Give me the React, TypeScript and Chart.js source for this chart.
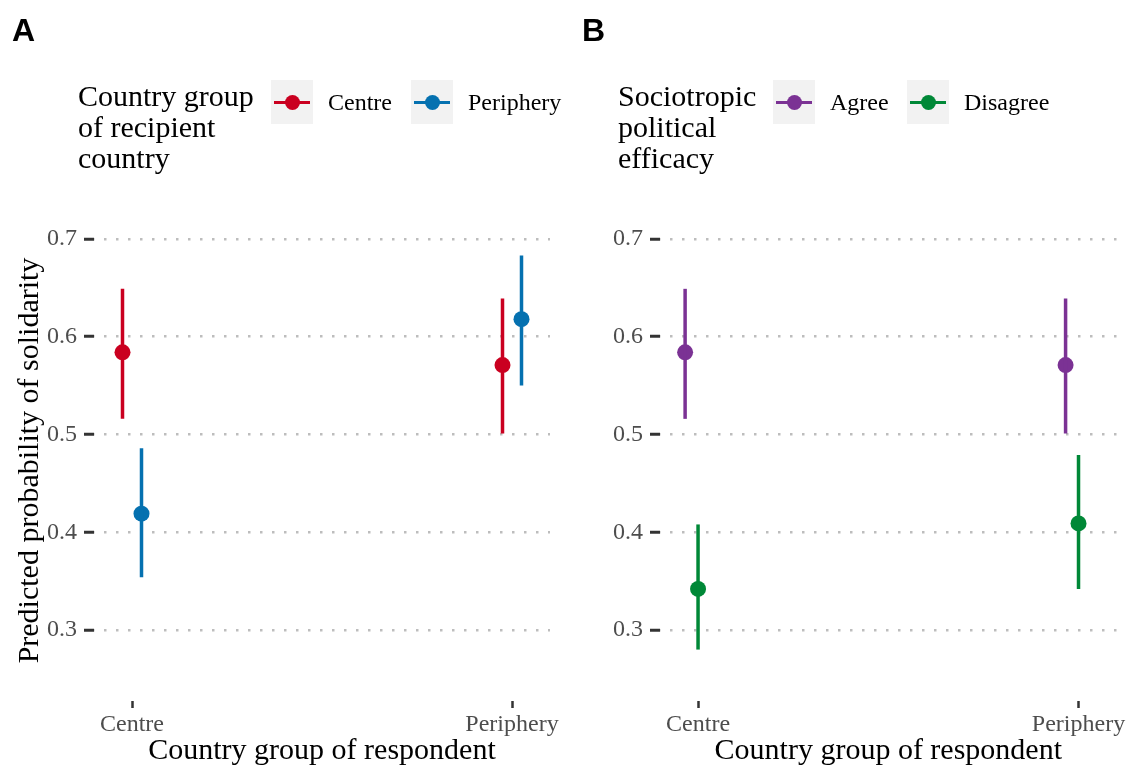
import React, { useEffect, useRef } from "react";
import { Chart, registerables } from "chart.js";

Chart.register(...registerables);

// ---------- data ----------
const respondentGroups = ["Centre", "Periphery"];
const yTickValues = [0.3, 0.4, 0.5, 0.6, 0.7];

// Panel A: country group of recipient country
const recipientGroups = ["Centre", "Periphery"];
const recipientCentreEstimate = [0.584, 0.571];
const recipientCentreLower = [0.516, 0.501];
const recipientCentreUpper = [0.649, 0.639];
const recipientPeripheryEstimate = [0.419, 0.618];
const recipientPeripheryLower = [0.354, 0.55];
const recipientPeripheryUpper = [0.486, 0.683];

// Panel B: sociotropic political efficacy
const efficacyGroups = ["Agree", "Disagree"];
const agreeEstimate = [0.584, 0.571];
const agreeLower = [0.516, 0.501];
const agreeUpper = [0.649, 0.639];
const disagreeEstimate = [0.342, 0.409];
const disagreeLower = [0.28, 0.342];
const disagreeUpper = [0.408, 0.479];

// ---------- styling ----------
const SERIF = "'Liberation Serif', 'Times New Roman', serif";
const SANS = "'Liberation Sans', Arial, sans-serif";
const RED = "#ca0020";
const BLUE = "#0571b0";
const PURPLE = "#7b3294";
const GREEN = "#008837";
const PAD_TOP = 220;
const Y_MIN = 0.2274;
const Y_MAX = 0.7194;
const X_MIN = 0.9;
const X_MAX = 2.1;

type Series = {
  label: string;
  color: string;
  offset: number;
  est: number[];
  lo: number[];
  hi: number[];
};

function buildDatasets(series: Series[]) {
  const ds: any[] = [];
  series.forEach((s) => {
    respondentGroups.forEach((_g, i) => {
      const x = i + 1 + s.offset;
      ds.push({
        label: s.label + " range",
        data: [
          { x, y: s.lo[i] },
          { x, y: s.hi[i] },
        ],
        showLine: true,
        borderColor: s.color,
        borderWidth: 3.5,
        borderCapStyle: "butt",
        pointRadius: 0,
        pointHoverRadius: 0,
        clip: false,
      });
    });
  });
  series.forEach((s) => {
    ds.push({
      label: s.label,
      data: respondentGroups.map((_g, i) => ({ x: i + 1 + s.offset, y: s.est[i] })),
      showLine: false,
      backgroundColor: s.color,
      borderColor: s.color,
      borderWidth: 0,
      pointRadius: 8,
      pointHoverRadius: 8,
      clip: false,
    });
  });
  return ds;
}

function makeOptions(yWidth: number, rightPad: number, yTitle: string | null) {
  return {
    animation: false,
    responsive: false,
    maintainAspectRatio: false,
    layout: { padding: { top: PAD_TOP, right: rightPad, left: 0, bottom: 0 } },
    plugins: { legend: { display: false }, tooltip: { enabled: false } },
    events: [],
    scales: {
      x: {
        type: "linear",
        min: X_MIN,
        max: X_MAX,
        afterBuildTicks: (s: any) => {
          s.ticks = respondentGroups.map((_g, i) => ({ value: i + 1 }));
        },
        afterFit: (s: any) => {
          s.height = 68;
        },
        ticks: {
          autoSkip: false,
          maxRotation: 0,
          padding: 2,
          color: "#4d4d4d",
          font: { family: SERIF, size: 24 },
          callback: (v: any) => respondentGroups[Math.round(Number(v)) - 1] ?? "",
        },
        grid: {
          drawOnChartArea: false,
          drawTicks: true,
          tickLength: 7,
          tickWidth: 2.5,
          tickColor: "#333333",
        },
        border: { display: false },
        title: {
          display: true,
          text: "Country group of respondent",
          color: "#000000",
          font: { family: SERIF, size: 30 },
          padding: { top: 0, bottom: 0 },
        },
      },
      y: {
        type: "linear",
        min: Y_MIN,
        max: Y_MAX,
        afterBuildTicks: (s: any) => {
          s.ticks = yTickValues.map((v) => ({ value: v }));
        },
        afterFit: (s: any) => {
          s.width = yWidth;
        },
        ticks: {
          padding: 7,
          color: "#4d4d4d",
          font: { family: SERIF, size: 24 },
          callback: (v: any) => Number(v).toFixed(1),
        },
        grid: {
          color: "#bdbdbd",
          lineWidth: 2.5,
          drawTicks: true,
          tickLength: 10,
          tickWidth: 3,
          tickColor: "#333333",
          tickBorderDash: [],
        },
        border: { display: false, dash: [2.5, 9.5], dashOffset: 2 },
        title: {
          display: !!yTitle,
          text: yTitle || "",
          color: "#000000",
          font: { family: SERIF, size: 30 },
          padding: { top: 12, bottom: 0 },
        },
      },
    },
  };
}

function Panel(props: { left: number; yWidth: number; rightPad: number; yTitle: string | null; series: Series[] }) {
  const ref = useRef<HTMLCanvasElement | null>(null);
  useEffect(() => {
    if (!ref.current) return;
    const chart = new Chart(ref.current, {
      type: "scatter",
      data: { datasets: buildDatasets(props.series) },
      options: makeOptions(props.yWidth, props.rightPad, props.yTitle) as any,
    });
    return () => chart.destroy();
  }, []);
  return (
    <canvas
      ref={ref}
      width={564}
      height={769}
      style={{ position: "absolute", left: props.left, top: 0, width: 564, height: 769 }}
    />
  );
}

function LegendKey(props: { left: number; color: string }) {
  return (
    <div
      style={{
        position: "absolute",
        left: props.left,
        top: 80,
        width: 42,
        height: 44,
        background: "#f2f2f2",
      }}
    >
      <div
        style={{
          position: "absolute",
          left: 3,
          width: 36,
          top: 20.5,
          height: 3,
          background: props.color,
        }}
      />
      <div
        style={{
          position: "absolute",
          left: 13.5,
          top: 14.5,
          width: 15,
          height: 15,
          borderRadius: "50%",
          background: props.color,
        }}
      />
    </div>
  );
}

function LegendLabel(props: { left: number; text: string }) {
  return (
    <div
      style={{
        position: "absolute",
        left: props.left,
        top: 80,
        height: 44,
        lineHeight: "44px",
        fontFamily: SERIF,
        fontSize: 24,
        color: "#000",
        whiteSpace: "nowrap",
      }}
    >
      {props.text}
    </div>
  );
}

function LegendTitle(props: { left: number; lines: string[] }) {
  return (
    <div
      style={{
        position: "absolute",
        left: props.left,
        top: 80,
        fontFamily: SERIF,
        fontSize: 30,
        lineHeight: "31px",
        color: "#000",
        whiteSpace: "nowrap",
      }}
    >
      {props.lines.map((l, i) => (
        <div key={i}>{l}</div>
      ))}
    </div>
  );
}

function PanelTag(props: { left: number; text: string }) {
  return (
    <div
      style={{
        position: "absolute",
        left: props.left,
        top: 14,
        fontFamily: SANS,
        fontWeight: "bold",
        fontSize: 32,
        lineHeight: "32px",
        color: "#000",
      }}
    >
      {props.text}
    </div>
  );
}

export default function App() {
  useEffect(() => {
    document.body.style.margin = "0";
  }, []);

  const seriesA: Series[] = [
    {
      label: recipientGroups[0],
      color: RED,
      offset: -0.025,
      est: recipientCentreEstimate,
      lo: recipientCentreLower,
      hi: recipientCentreUpper,
    },
    {
      label: recipientGroups[1],
      color: BLUE,
      offset: 0.025,
      est: recipientPeripheryEstimate,
      lo: recipientPeripheryLower,
      hi: recipientPeripheryUpper,
    },
  ];
  const seriesB: Series[] = [
    {
      label: efficacyGroups[0],
      color: PURPLE,
      offset: -0.034,
      est: agreeEstimate,
      lo: agreeLower,
      hi: agreeUpper,
    },
    {
      label: efficacyGroups[1],
      color: GREEN,
      offset: 0,
      est: disagreeEstimate,
      lo: disagreeLower,
      hi: disagreeUpper,
    },
  ];

  return (
    <div style={{ position: "relative", width: 1128, height: 769, overflow: "hidden", background: "#fff" }}>
      <Panel left={0} yWidth={94} rightPad={14} yTitle="Predicted probability of solidarity" series={seriesA} />
      <Panel left={564} yWidth={96} rightPad={10} yTitle={null} series={seriesB} />

      <PanelTag left={12} text="A" />
      <PanelTag left={582} text="B" />

      <LegendTitle left={78} lines={["Country group", "of recipient", "country"]} />
      <LegendKey left={271} color={RED} />
      <LegendLabel left={328} text={recipientGroups[0]} />
      <LegendKey left={411} color={BLUE} />
      <LegendLabel left={468} text={recipientGroups[1]} />

      <LegendTitle left={618} lines={["Sociotropic", "political", "efficacy"]} />
      <LegendKey left={773} color={PURPLE} />
      <LegendLabel left={830} text={efficacyGroups[0]} />
      <LegendKey left={907} color={GREEN} />
      <LegendLabel left={964} text={efficacyGroups[1]} />
    </div>
  );
}
